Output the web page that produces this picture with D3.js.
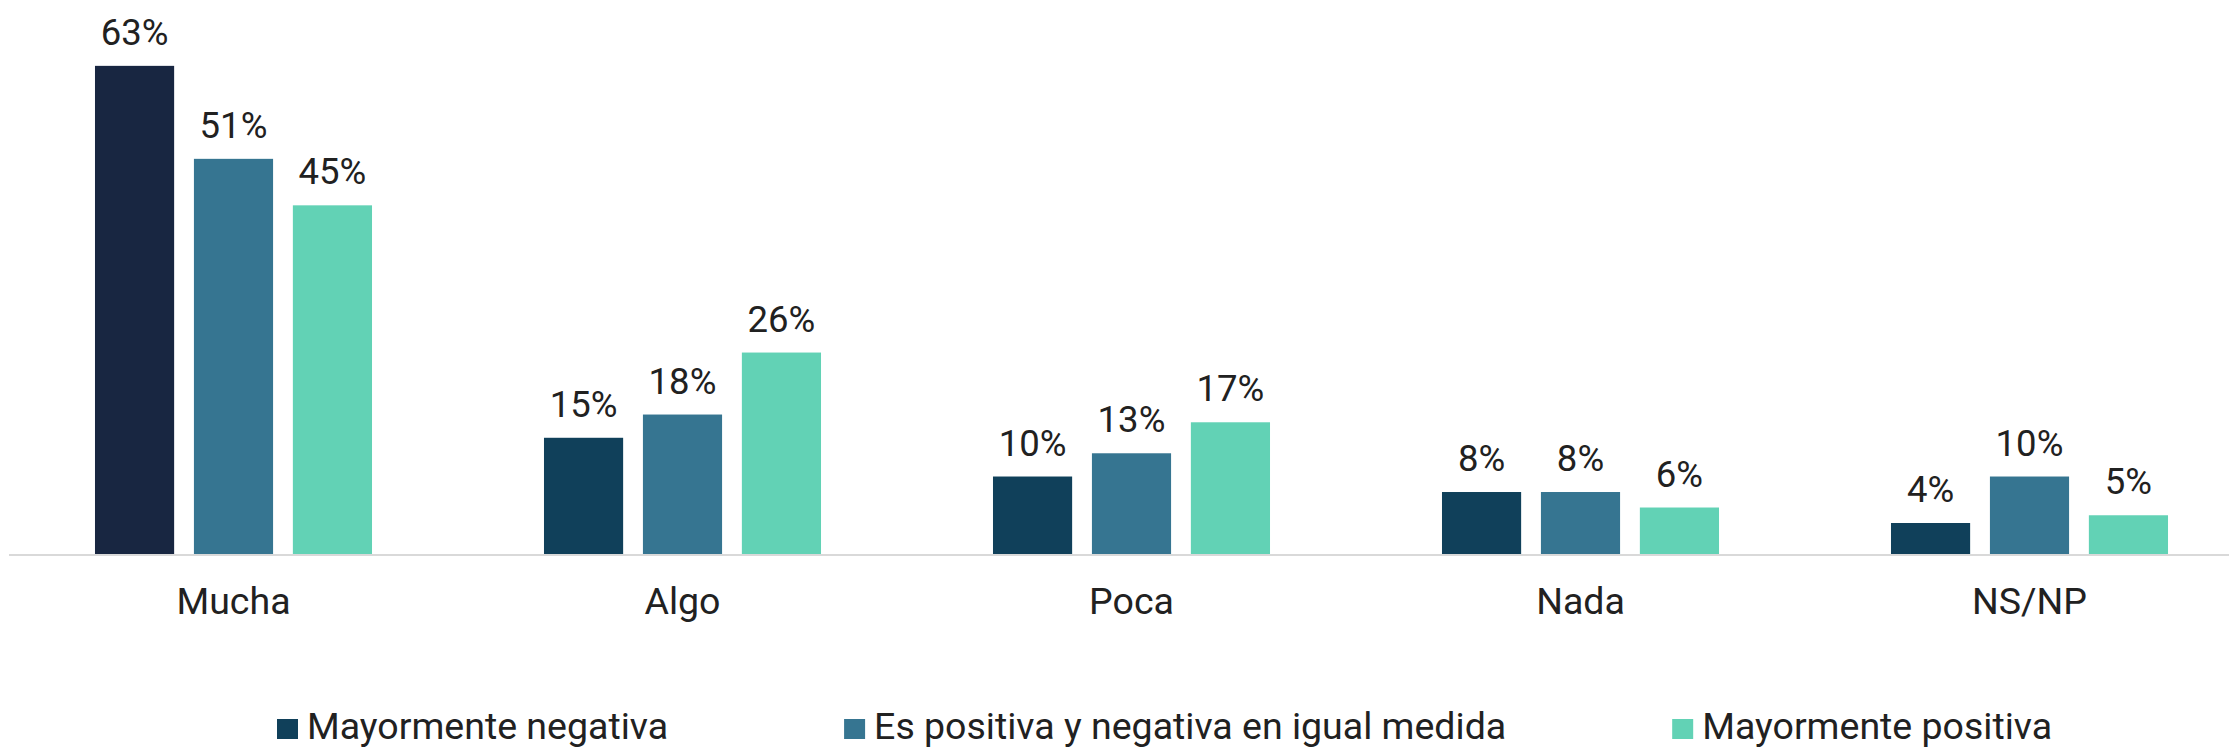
<!DOCTYPE html>
<html>
<head>
<meta charset="utf-8">
<script src="https://cdn.jsdelivr.net/npm/d3@7"></script>
<style>
  html, body { margin: 0; padding: 0; background: #fff; }
  svg { display: block; font-family: Roboto, "Noto Sans", sans-serif; }
</style>
</head>
<body>
<div id="chart"></div>
<script>
// data
const categories = ['Mucha', 'Algo', 'Poca', 'Nada', 'NS/NP'];
const seriesNames = ['Mayormente negativa', 'Es positiva y negativa en igual medida', 'Mayormente positiva'];
const negativa = [63, 15, 10, 8, 4];
const igual = [51, 18, 13, 8, 10];
const positiva = [45, 26, 17, 6, 5];
const seriesColors = ['#10405a', '#367591', '#62d2b5'];

const width = 2229, height = 748;
const baseY = 554;

let svg = d3.select('#chart').append('svg').attr('width', width).attr('height', height);

let x0 = d3.scaleBand().domain(categories).range([9, 2254]).paddingInner(0.383).paddingOuter(0.1915);
let x1 = d3.scaleBand().domain(seriesNames).range([0, x0.bandwidth()]).paddingInner(0.2).paddingOuter(0);
let y = d3.scaleLinear().domain([0, 71.5]).range([baseY, 0]);

let rows = categories.map((c, i) => ({
    cat: c,
    vals: [negativa[i], igual[i], positiva[i]].map((v, j) => ({ key: seriesNames[j], value: v, s: j, ci: i }))
}));

// baseline
svg.append('line')
    .attr('x1', 9).attr('x2', width)
    .attr('y1', baseY + 1).attr('y2', baseY + 1)
    .attr('stroke', '#d9d9d9').attr('stroke-width', 2);

let groups = svg.selectAll('g.grp').data(rows).enter().append('g')
    .attr('class', 'grp')
    .attr('transform', d => 'translate(' + x0(d.cat) + ',0)');

groups.selectAll('rect').data(d => d.vals).enter().append('rect')
    .attr('x', d => x1(d.key))
    .attr('width', x1.bandwidth())
    .attr('y', d => y(d.value))
    .attr('height', d => baseY - y(d.value))
    // first bar of the chart is a darker navy
    .attr('fill', d => (d.s === 0 && d.ci === 0) ? '#182641' : seriesColors[d.s]);

groups.selectAll('text.val').data(d => d.vals).enter().append('text')
    .attr('class', 'val')
    .attr('x', d => x1(d.key) + x1.bandwidth() / 2)
    .attr('y', d => y(d.value) - 21)
    .attr('text-anchor', 'middle')
    .style('font-size', '36.5px')
    .style('fill', '#212121')
    .text(d => d.value + '%');

// category labels
svg.selectAll('text.cat').data(categories).enter().append('text')
    .attr('class', 'cat')
    .attr('x', d => x0(d) + x0.bandwidth() / 2)
    .attr('y', 614)
    .attr('text-anchor', 'middle')
    .style('font-size', '37.5px')
    .style('fill', '#212121')
    .text(d => d);

// legend
let legend = svg.append('g').attr('transform', 'translate(277, 739)');
let lx = 0;
seriesNames.forEach((name, i) => {
    let item = legend.append('g').attr('transform', 'translate(' + lx + ',0)');
    item.append('rect').attr('x', 0).attr('y', -20).attr('width', 21).attr('height', 20).attr('fill', seriesColors[i]);
    let t = item.append('text').attr('x', 30).attr('y', 0)
        .style('font-size', '37.5px').style('fill', '#212121').text(name);
    lx += 30 + t.node().getComputedTextLength() + (i === 0 ? 176 : 166);
});
</script>
</body>
</html>
